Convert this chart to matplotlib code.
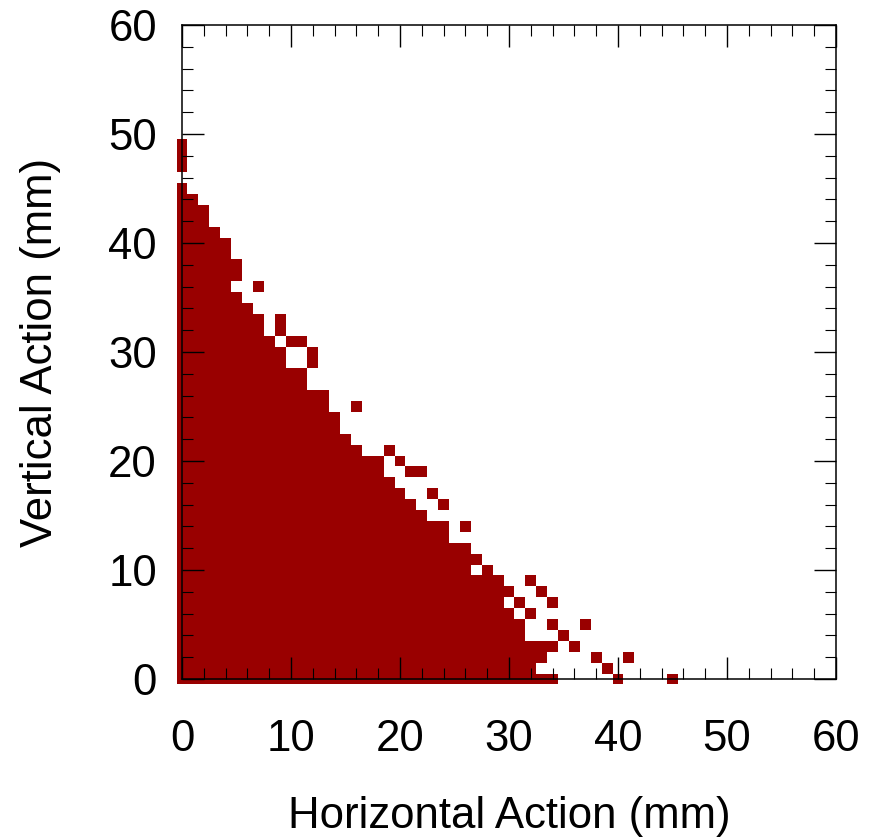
import matplotlib
matplotlib.use("Agg")
import matplotlib.pyplot as plt
import numpy as np
from matplotlib.ticker import MultipleLocator

plt.rcParams['font.family'] = ['Liberation Sans', 'DejaVu Sans']

# right-most x of the solid run starting at x=0, for y = 0..49 (-1 = empty row)
run_end = [34, 32, 33, 34, 31, 31, 30, 29, 30, 29,
           26, 27, 26, 24, 24, 22, 21, 20, 19, 18,
           18, 16, 15, 14, 14, 13, 13, 11, 11, 9,
           9, 8, 7, 7, 6, 5, 4, 5, 5, 4,
           4, 3, 2, 2, 1, 0, -1, 0, 0, 0]

# isolated cells outside the solid run
extra_x = [7, 9, 9, 10, 11, 12, 12, 16, 19, 20, 21, 22, 23, 24, 26,
           28, 32, 33, 31, 34, 32, 34, 37, 35, 36, 38, 41, 39, 40, 45]
extra_y = [36, 33, 32, 31, 31, 30, 29, 25, 21, 20, 19, 19, 17, 16, 14,
           10, 9, 8, 7, 7, 6, 5, 5, 4, 3, 2, 2, 1, 0, 0]

xs, ys = [], []
for y, end in enumerate(run_end):
    for x in range(end + 1):
        xs.append(x)
        ys.append(y)
xs = np.array(xs + extra_x)
ys = np.array(ys + extra_y)

W, H = 869, 840
fig = plt.figure(figsize=(W / 100, H / 100), dpi=100)
ax = fig.add_axes([182 / W, 1 - 679 / H, 654 / W, 654 / H])

# one unit square per cell, centred on the integer coordinates
ax.bar(xs, 1.0, width=1.0, bottom=ys - 0.5, color='#990000',
       linewidth=0, clip_on=False, zorder=1)

ax.set_xlim(0, 60)
ax.set_ylim(0, 60)
ax.xaxis.set_major_locator(MultipleLocator(10))
ax.yaxis.set_major_locator(MultipleLocator(10))
ax.xaxis.set_minor_locator(MultipleLocator(2))
ax.yaxis.set_minor_locator(MultipleLocator(2))
ax.tick_params(which='both', direction='in', top=True, right=True,
               labelsize=31.5, width=1.0)
ax.tick_params(which='major', length=15.8)
ax.tick_params(which='minor', length=7.9, width=0.8)
ax.tick_params(axis='x', pad=29)
ax.tick_params(axis='y', pad=18)
for sp in ax.spines.values():
    sp.set_linewidth(1.1)

ax.set_xlabel("Horizontal Action (mm)", fontsize=31.5, labelpad=26)
ax.set_ylabel("Vertical Action (mm)", fontsize=31.5, labelpad=34)

fig.savefig("out.png", dpi=100)
